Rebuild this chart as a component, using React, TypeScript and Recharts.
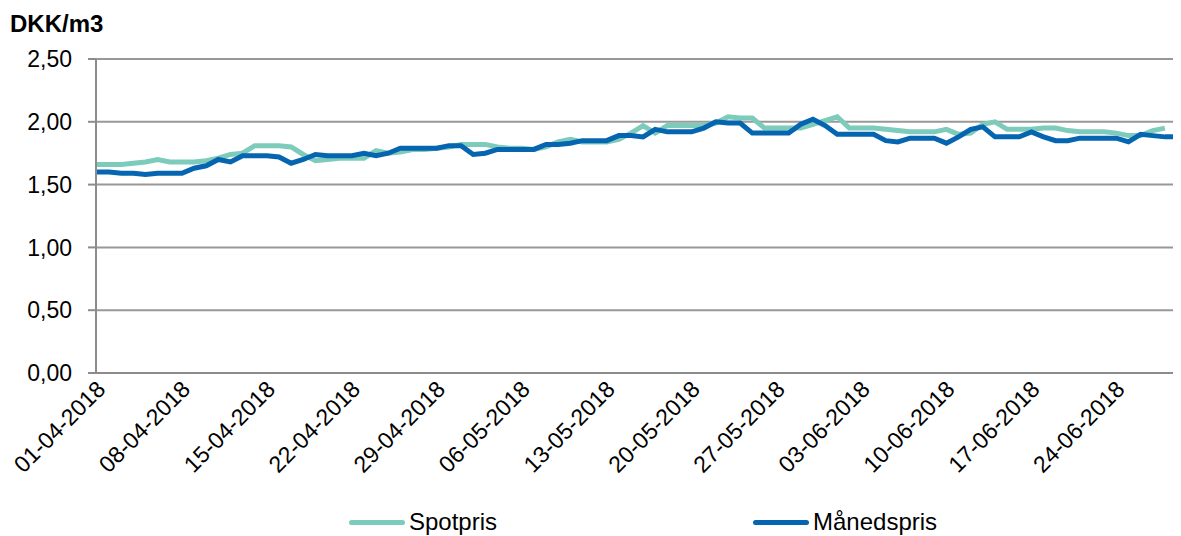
import { LineChart, Line, XAxis, YAxis, CartesianGrid, Legend } from 'recharts'

const dates = [
  '01-04-2018', '02-04-2018', '03-04-2018', '04-04-2018', '05-04-2018', '06-04-2018', '07-04-2018', '08-04-2018', '09-04-2018', '10-04-2018',
  '11-04-2018', '12-04-2018', '13-04-2018', '14-04-2018', '15-04-2018', '16-04-2018', '17-04-2018', '18-04-2018', '19-04-2018', '20-04-2018',
  '21-04-2018', '22-04-2018', '23-04-2018', '24-04-2018', '25-04-2018', '26-04-2018', '27-04-2018', '28-04-2018', '29-04-2018', '30-04-2018',
  '01-05-2018', '02-05-2018', '03-05-2018', '04-05-2018', '05-05-2018', '06-05-2018', '07-05-2018', '08-05-2018', '09-05-2018', '10-05-2018',
  '11-05-2018', '12-05-2018', '13-05-2018', '14-05-2018', '15-05-2018', '16-05-2018', '17-05-2018', '18-05-2018', '19-05-2018', '20-05-2018',
  '21-05-2018', '22-05-2018', '23-05-2018', '24-05-2018', '25-05-2018', '26-05-2018', '27-05-2018', '28-05-2018', '29-05-2018', '30-05-2018',
  '31-05-2018', '01-06-2018', '02-06-2018', '03-06-2018', '04-06-2018', '05-06-2018', '06-06-2018', '07-06-2018', '08-06-2018', '09-06-2018',
  '10-06-2018', '11-06-2018', '12-06-2018', '13-06-2018', '14-06-2018', '15-06-2018', '16-06-2018', '17-06-2018', '18-06-2018', '19-06-2018',
  '20-06-2018', '21-06-2018', '22-06-2018', '23-06-2018', '24-06-2018', '25-06-2018', '26-06-2018', '27-06-2018', '28-06-2018', '29-06-2018',
]

// spotpris, sidste dag mangler
const spot = [
  1.66, 1.66, 1.66, 1.67, 1.68, 1.70, 1.68, 1.68, 1.68, 1.69,
  1.71, 1.74, 1.75, 1.81, 1.81, 1.81, 1.80, 1.74, 1.69, 1.70,
  1.71, 1.71, 1.71, 1.77, 1.75, 1.76, 1.78, 1.78, 1.79, 1.80,
  1.82, 1.82, 1.82, 1.80, 1.79, 1.79, 1.78, 1.80, 1.84, 1.86,
  1.84, 1.84, 1.84, 1.86, 1.91, 1.97, 1.91, 1.97, 1.97, 1.97,
  1.97, 1.99, 2.04, 2.03, 2.03, 1.95, 1.95, 1.95, 1.95, 1.98,
  2.01, 2.04, 1.95, 1.95, 1.95, 1.94, 1.93, 1.92, 1.92, 1.92,
  1.94, 1.90, 1.91, 1.98, 2.00, 1.94, 1.94, 1.94, 1.95, 1.95,
  1.93, 1.92, 1.92, 1.92, 1.91, 1.89, 1.89, 1.93, 1.95, null,
]

const maaned = [
  1.60, 1.60, 1.59, 1.59, 1.58, 1.59, 1.59, 1.59, 1.63, 1.65,
  1.70, 1.68, 1.73, 1.73, 1.73, 1.72, 1.67, 1.70, 1.74, 1.73,
  1.73, 1.73, 1.75, 1.73, 1.75, 1.79, 1.79, 1.79, 1.79, 1.81,
  1.81, 1.74, 1.75, 1.78, 1.78, 1.78, 1.78, 1.82, 1.82, 1.83,
  1.85, 1.85, 1.85, 1.89, 1.89, 1.88, 1.94, 1.92, 1.92, 1.92,
  1.95, 2.00, 1.99, 1.99, 1.91, 1.91, 1.91, 1.91, 1.98, 2.02,
  1.97, 1.90, 1.90, 1.90, 1.90, 1.85, 1.84, 1.87, 1.87, 1.87,
  1.83, 1.88, 1.94, 1.96, 1.88, 1.88, 1.88, 1.92, 1.88, 1.85,
  1.85, 1.87, 1.87, 1.87, 1.87, 1.84, 1.90, 1.89, 1.88, 1.88,
]

const yTicks = [0, 0.5, 1, 1.5, 2, 2.5]
const seriesNames = ['Spotpris', 'Månedspris']
const colors = ['#7dcbbb', '#0565b0']

const font = '"Liberation Sans", Arial, sans-serif'

const data = dates.map((d, i) => ({ date: d, spot: spot[i], maaned: maaned[i] }))

function DateTick({ x, y, payload }: any) {
  return (
    <g transform={`translate(${x + 4},${y + 12})`}>
      <text
        x={0}
        y={0}
        dy="0.35em"
        textAnchor="end"
        transform="rotate(-45)"
        fontSize={23}
        fontFamily={font}
        fill="#000"
      >
        {payload.value}
      </text>
    </g>
  )
}

function LegendBox() {
  const items = [
    { name: seriesNames[0], color: colors[0], left: 341 },
    { name: seriesNames[1], color: colors[1], left: 745 },
  ]
  return (
    <div style={{ position: 'relative', width: 1173, height: 28 }}>
      {items.map(it => (
        <div key={it.name} style={{ position: 'absolute', left: it.left, top: 0, height: 28, display: 'flex', alignItems: 'center' }}>
          <div style={{ width: 56, height: 5, borderRadius: 3, background: it.color, marginRight: 4 }} />
          <span style={{ fontFamily: font, fontSize: 24, color: '#000', lineHeight: '28px' }}>{it.name}</span>
        </div>
      ))}
    </div>
  )
}

export default function App() {
  return (
    <div style={{ position: 'relative', width: 1173, height: 528 }}>
      <div style={{ position: 'absolute', left: 2, top: 4, fontFamily: font, fontWeight: 'bold', fontSize: 24, lineHeight: '24px' }}>
        DKK/m3
      </div>
      <LineChart width={1173} height={528} data={data} margin={{ top: 51, right: 0, left: 0, bottom: 0 }}>
        <CartesianGrid vertical={false} stroke="#989898" strokeWidth={2} />
        <XAxis
          dataKey="date"
          interval={6}
          tick={<DateTick />}
          tickLine={false}
          tickSize={0}
          tickMargin={0}
          height={163}
          padding={{ left: 1, right: 4 }}
          axisLine={{ stroke: '#8c8c8c', strokeWidth: 2 }}
        />
        <YAxis
          width={88}
          domain={[0, 2.5]}
          ticks={yTicks}
          tickFormatter={(v: number) => v.toFixed(2).replace('.', ',')}
          tick={{ fontSize: 23, fontFamily: font, fill: '#000' }}
          tickSize={8}
          tickMargin={16}
          tickLine={{ stroke: '#8c8c8c', strokeWidth: 2 }}
          axisLine={{ stroke: '#8c8c8c', strokeWidth: 2 }}
        />
        <Legend
          verticalAlign="middle"
          align="center"
          wrapperStyle={{ top: 500, left: 0, width: 1173 }}
          content={<LegendBox />}
        />
        <Line
          type="linear"
          dataKey="spot"
          name={seriesNames[0]}
          stroke={colors[0]}
          strokeWidth={5}
          dot={false}
          isAnimationActive={false}
        />
        <Line
          type="linear"
          dataKey="maaned"
          name={seriesNames[1]}
          stroke={colors[1]}
          strokeWidth={5}
          dot={false}
          isAnimationActive={false}
        />
      </LineChart>
    </div>
  )
}
